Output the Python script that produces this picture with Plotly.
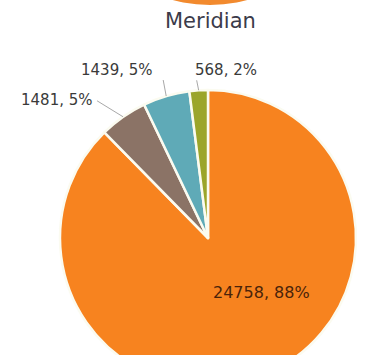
import math
import plotly.graph_objects as go

labels = ["A", "B", "C", "D"]
values = [24758, 1481, 1439, 568]
colors = ["#F7831F", "#8B7366", "#5FAAB7", "#9BA52A"]
title_text = "Meridian"

W, H = 372, 400
CX, CY, R = 208, 238, 148          # pie centre / radius in px (from top-left)
FONT = "DejaVu Sans"

fig = go.Figure(go.Pie(
    labels=labels,
    values=values,
    sort=False,
    direction="clockwise",
    rotation=0,
    marker=dict(colors=colors, line=dict(color="#fbfbf0", width=2.5)),
    textinfo="none",
    domain=dict(x=[(CX - R) / W, (CX + R) / W], y=[1 - (CY + R) / H, 1 - (CY - R) / H]),
    showlegend=False,
    hoverinfo="skip",
))

total = sum(values)


def px(x, y):
    return x / W, 1 - y / H


# leader lines + outside labels for the small slices (geometry from data)
line_off = {1: (-26, -16), 2: (-3, -16), 3: (-2, -10)}
text_off = {1: (-2, -1, "right"), 2: (-8, -10, "right"), 3: (-4, -10, "left")}
cum = 0
for i, v in enumerate(values):
    mid = (cum + v / 2) / total
    cum += v
    pct = round(100 * v / total)
    if i == 0:
        tx, ty = px(CX + 53, CY + 54)
        fig.add_annotation(text=f"{v}, {pct}%", xref="paper", yref="paper", x=tx, y=ty,
                           xanchor="center", yanchor="middle", showarrow=False,
                           font=dict(family=FONT, size=16, color="#4a230a"))
        continue
    th = 2 * math.pi * mid
    ex, ey = CX + R * math.sin(th), CY - R * math.cos(th)
    lx, ly = ex + line_off[i][0], ey + line_off[i][1]
    x0, y0 = px(ex, ey)
    x1, y1 = px(lx, ly)
    fig.add_shape(type="line", xref="paper", yref="paper", x0=x0, y0=y0, x1=x1, y1=y1,
                  line=dict(color="#a8a8a8", width=1))
    dx, dy, anch = text_off[i]
    tx, ty = px(lx + dx, ly + dy)
    fig.add_annotation(text=f"{v}, {pct}%", xref="paper", yref="paper", x=tx, y=ty,
                       xanchor=anch, yanchor="middle", showarrow=False,
                       font=dict(family=FONT, size=15, color="#3a3a3a"))

# decorative orange blob at the top
fig.add_shape(type="circle", xref="paper", yref="paper",
              x0=140 / W, x1=280 / W, y0=1 - 5 / H, y1=1 + 60 / H,
              fillcolor="#F28A2E", line=dict(width=0))

tx, ty = px(210, 21)
fig.add_annotation(text=title_text, xref="paper", yref="paper", x=tx, y=ty,
                   xanchor="center", yanchor="middle", showarrow=False,
                   font=dict(family=FONT, size=21, color="#3b3b4a"))

fig.update_layout(width=W, height=H, margin=dict(l=0, r=0, t=0, b=0),
                  paper_bgcolor="white", plot_bgcolor="white")

fig.write_html("out.html", post_script="document.documentElement.style.overflow='hidden';document.body.style.overflow='hidden';document.body.style.margin='0';")
